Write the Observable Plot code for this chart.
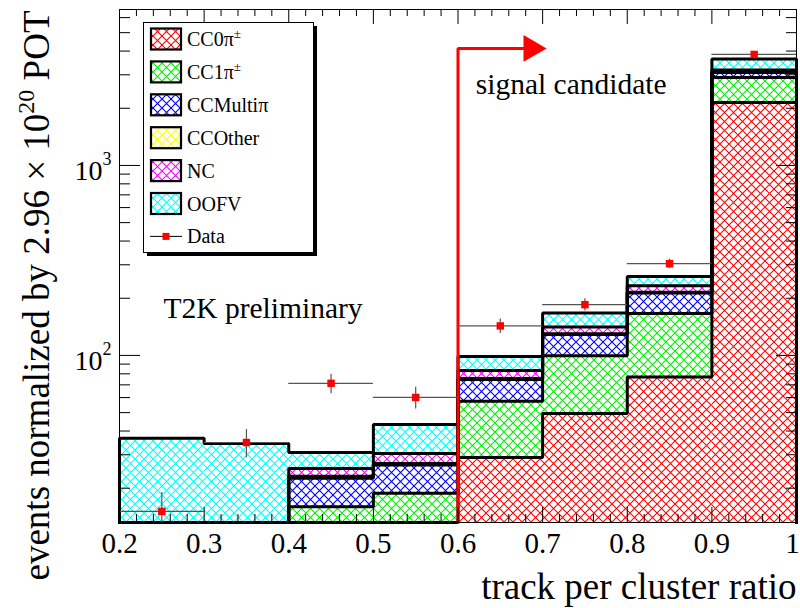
<!DOCTYPE html>
<html><head><meta charset="utf-8">
<script src="https://cdn.jsdelivr.net/npm/d3@7"></script>
<script src="https://cdn.jsdelivr.net/npm/@observablehq/plot@0.6"></script>
<style>html,body{margin:0;padding:0;background:#fff;} #chart{width:800px;height:608px;}</style>
</head><body><div id="chart"></div>
<script>
// ---- data ----
const binLo = [0.2, 0.3, 0.4, 0.5, 0.6, 0.7, 0.8, 0.9];
const binHi = [0.3, 0.4, 0.5, 0.6, 0.7, 0.8, 0.9, 1.0];
const cc0pi   = [1.5, 1.5, 9, 10, 29.0, 49.4, 76.9, 2145];
const cc1pi   = [2.5, 3, 7, 8.8, 28.4, 50.2, 89.1, 758];
const ccmulti = [2, 2.5, 6.6, 7.7, 17.3, 29.4, 47, 180];
const ccother = [0.5, 0.5, 0.5, 0.5, 1.0, 1, 2, 6];
const nc      = [1.5, 1.5, 2.3, 3.5, 7.7, 11, 18, 90];
const oofv    = [28.6, 25.4, 5.4, 12.8, 15.4, 26, 27.6, 453];
const compNames  = ["CC0π", "CC1π", "CCMultiπ", "CCOther", "NC", "OOFV"];
const compSup    = ["±", "±", "", "", "", ""];
const compColors = ["#ff0000", "#00f000", "#0000ff", "#ffff00", "#ff00ff", "#00ffff"];
const compValues = [cc0pi, cc1pi, ccmulti, ccother, nc, oofv];

const dataX   = [0.25, 0.35, 0.45, 0.55, 0.65, 0.75, 0.85, 0.95];
const dataY   = [15.1, 34.8, 71.3, 60.1, 143, 185, 304, 3840];
const dataErr = [3.9, 5.9, 8.4, 7.8, 12.5, 13.6, 17.4, 62];

const xMajor = [0.2, 0.3, 0.4, 0.5, 0.6, 0.7, 0.8, 0.9, 1.0];
const xLabelTicks = [0.2, 0.3, 0.4, 0.5, 0.6, 0.7, 0.8, 0.9];
const xLastTick = [1.0];
const xMinor = [0.22,0.24,0.26,0.28,0.32,0.34,0.36,0.38,0.42,0.44,0.46,0.48,0.52,0.54,0.56,0.58,
                0.62,0.64,0.66,0.68,0.72,0.74,0.76,0.78,0.82,0.84,0.86,0.88,0.92,0.94,0.96,0.98];
const yMajor = [100, 1000];
const yExp   = ["2", "3"];
const yMinor = [20,30,40,50,60,70,80,90,200,300,400,500,600,700,800,900,2000,3000,4000,5000,6000];
const yDomain = [13.2, 6620];

const cutX = 0.6, arrowY = 4130, arrowEndX = 0.69, arrowHeadX = 0.6865;
const xTitle = "track per cluster ratio";
const yTitleMain = "events normalized by 2.96 × 10", yTitleExp = "20", yTitleTail = " POT";
const signalText = {x: 0.621, y: 2363, text: "signal candidate"};
const prelimText = {x: 0.252, y: 156.5, text: "T2K preliminary"};

// ---- derived tables ----
const rects = [], outline = [];
let base = binLo.map(() => 0);
compValues.forEach((vals, k) => {
  const top = vals.map((v, i) => base[i] + v);
  binLo.forEach((lo, i) => rects.push({k, x1: lo, x2: binHi[i], y1: base[i] || 1, y2: top[i]}));
  outline.push({k, x: binLo[0], y: 1});
  binLo.forEach((lo, i) => { outline.push({k, x: lo, y: top[i]}); outline.push({k, x: binHi[i], y: top[i]}); });
  outline.push({k, x: binHi[binHi.length - 1], y: 1});
  base = top;
});
const dataRows = dataX.map((x, i) => ({x, lo: binLo[i], hi: binHi[i], y: dataY[i], ylo: dataY[i] - dataErr[i], yhi: dataY[i] + dataErr[i]}));
const arrowPts = [{x: cutX, y: 1}, {x: cutX, y: arrowY}, {x: arrowEndX, y: arrowY}];

const W = 677, H = 513;
const serif = "'Liberation Serif', 'Times New Roman', serif";
const fmtX = d => d === 1 ? "1" : d.toFixed(1);

const plot = Plot.plot({
  width: 800, height: 608,
  marginLeft: 119, marginRight: 4, marginTop: 9, marginBottom: 86,
  style: {fontFamily: serif, background: "white", color: "black"},
  x: {domain: [0.2, 1.0]},
  y: {type: "log", domain: yDomain, clamp: true},
  marks: [
    ...compValues.map((_, k) => Plot.rect(rects.filter(d => d.k === k), {x1: "x1", x2: "x2", y1: "y1", y2: "y2", fill: `url(#hatch${k})`})),
    Plot.line(outline, {x: "x", y: "y", z: "k", stroke: "black", strokeWidth: 3, strokeLinejoin: "miter"}),
    Plot.line(arrowPts, {x: "x", y: "y", stroke: "red", strokeWidth: 3, strokeLinejoin: "miter"}),
    Plot.dot([{x: arrowHeadX, y: arrowY}], {x: "x", y: "y", symbol: "triangle", rotate: 90, r: 9.9, fill: "red", stroke: "none"}),
    Plot.ruleY(dataRows, {x1: "lo", x2: "hi", y: "y", stroke: "#555", strokeWidth: 1.2}),
    Plot.ruleX(dataRows, {x: "x", y1: "ylo", y2: "yhi", stroke: "#555", strokeWidth: 1.2}),
    Plot.dot(dataRows, {x: "x", y: "y", symbol: "square", r: 4.2, fill: "red", stroke: "none"}),
    // inward ticks (ROOT style)
    Plot.tickX(xMajor, {x: d => d, insetTop: H - 15, stroke: "black"}),
    Plot.tickX(xMinor, {x: d => d, insetTop: H - 8, stroke: "black"}),
    Plot.tickX(xMajor, {x: d => d, insetBottom: H - 15, stroke: "black"}),
    Plot.tickX(xMinor, {x: d => d, insetBottom: H - 7, stroke: "black"}),
    Plot.tickY(yMajor, {y: d => d, insetRight: W - 21, stroke: "black"}),
    Plot.tickY(yMinor, {y: d => d, insetRight: W - 11, stroke: "black"}),
    Plot.tickY(yMajor, {y: d => d, insetLeft: W - 20, stroke: "black"}),
    Plot.tickY(yMinor, {y: d => d, insetLeft: W - 10, stroke: "black"}),
    Plot.frame({stroke: "black", strokeWidth: 1}),
    Plot.axisX({ticks: xLabelTicks, tickSize: 0, tickPadding: 10, fontSize: 29, label: null, tickFormat: fmtX}),
    Plot.axisX({ticks: xLastTick, tickSize: 0, tickPadding: 10, fontSize: 29, label: null, tickFormat: fmtX, dx: -4}),
    Plot.axisY({ticks: yMajor, tickSize: 0, tickPadding: 8, fontSize: 28, label: null, dy: 6,
                tickFormat: () => "10"}),
    Plot.text([xTitle], {frameAnchor: "bottom-right", text: d => d, dy: 76, textAnchor: "end", lineAnchor: "bottom", fontSize: 37}),
    Plot.text([yTitleMain], {frameAnchor: "top-left", text: d => d, rotate: -90, dx: -71, dy: 1, textAnchor: "end", lineAnchor: "bottom", fontSize: 37}),
    Plot.text([signalText], {x: "x", y: "y", text: "text", textAnchor: "start", lineAnchor: "bottom", fontSize: 29.5}),
    Plot.text([prelimText], {x: "x", y: "y", text: "text", textAnchor: "start", lineAnchor: "bottom", fontSize: 29.5})
  ]
});
document.getElementById("chart").appendChild(plot);

const svg = d3.select(plot);
// hatch patterns
const defs = svg.insert("defs", ":first-child");
compColors.forEach((c, k) => {
  const p = defs.append("pattern").attr("id", "hatch" + k).attr("patternUnits", "userSpaceOnUse")
    .attr("width", 9).attr("height", 9);
  p.append("rect").attr("width", 9).attr("height", 9).attr("fill", "white");
  p.append("path").attr("d", "M-1,-1L10,10M10,-1L-1,10").attr("stroke", c).attr("stroke-width", 1.1).attr("fill", "none");
});

// superscripts on y tick labels
svg.selectAll('[aria-label="y-axis tick label"] text').each(function (d, i) {
  d3.select(this).append("tspan").attr("dy", -15).attr("font-size", 18).text(yExp[i]);
});
// superscript in y title
svg.selectAll("text").filter(function () { return this.textContent === yTitleMain; }).each(function () {
  const t = d3.select(this);
  t.append("tspan").attr("dy", -15).attr("font-size", 24).text(yTitleExp);
  t.append("tspan").attr("dy", 15).text(yTitleTail);
});

// legend
const lg = svg.append("g").attr("font-family", serif).attr("font-size", 20).attr("text-anchor", "start");
lg.append("rect").attr("x", 147).attr("y", 26).attr("width", 170).attr("height", 230).attr("fill", "black");
lg.append("rect").attr("x", 143.5).attr("y", 22.5).attr("width", 170).attr("height", 230).attr("fill", "white").attr("stroke", "black");
compNames.forEach((name, k) => {
  const cy = 39 + k * 32.9;
  lg.append("rect").attr("x", 151).attr("y", cy - 10.5).attr("width", 30).attr("height", 21)
    .attr("fill", `url(#hatch${k})`).attr("stroke", "black").attr("stroke-width", 2.2);
  const t = lg.append("text").attr("x", 187).attr("y", cy + 7).attr("text-anchor", "start").text(name);
  if (compSup[k]) t.append("tspan").attr("dy", -8).attr("font-size", 13).text(compSup[k]);
});
const dy = 39 + 6 * 32.9;
lg.append("line").attr("x1", 150).attr("x2", 182).attr("y1", dy).attr("y2", dy).attr("stroke", "black");
lg.append("rect").attr("x", 162.5).attr("y", dy - 3.5).attr("width", 7).attr("height", 7).attr("fill", "red");
lg.append("text").attr("x", 187).attr("y", dy + 7).attr("text-anchor", "start").text("Data");
</script></body></html>
